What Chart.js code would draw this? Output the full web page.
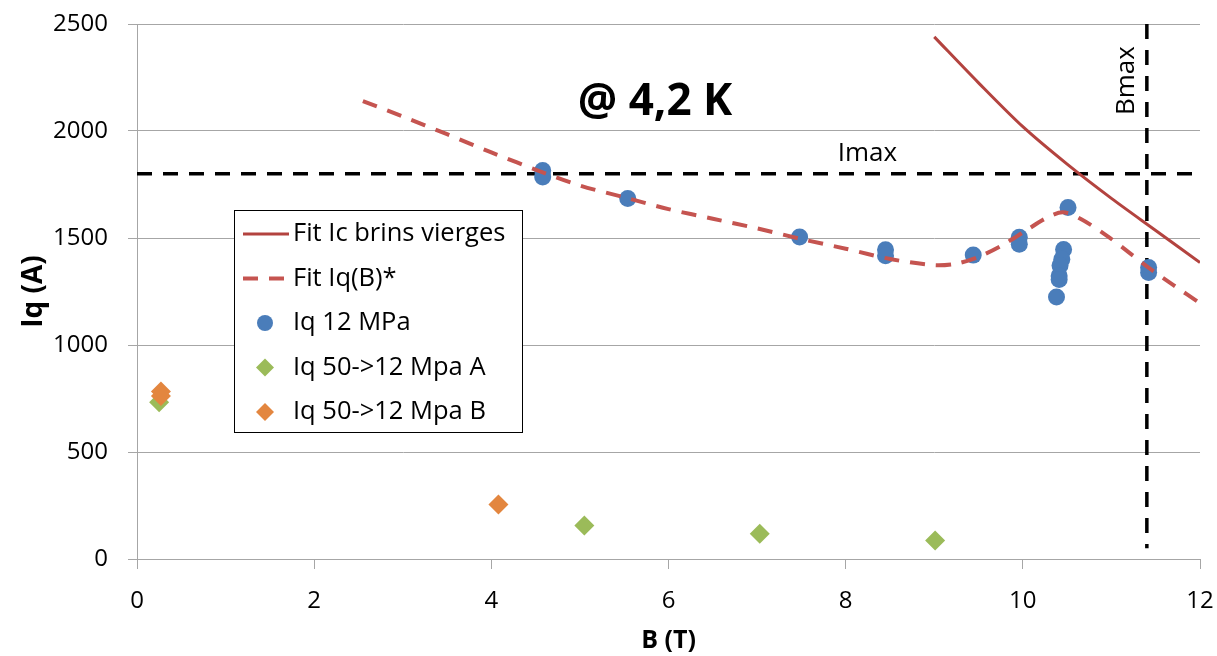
<!DOCTYPE html>
<html><head><meta charset="utf-8">
<script src="https://cdn.jsdelivr.net/npm/chart.js@4"></script>
<style>html,body{margin:0;padding:0;background:#fff}#wrap{width:1217px;height:656px;position:relative}</style>
</head><body><div id="wrap"><canvas id="c" width="1217" height="656"></canvas></div>
<script>
// ---- data ----
const fitIcB = [9.0, 9.5, 10.0, 10.5, 11.0, 11.5, 12.0];
const fitIcI = [2440, 2225, 2020, 1845, 1685, 1535, 1385];
const fitIqB = [2.55, 3.0, 3.5, 4.0, 4.58, 5.0, 5.5, 6.0, 6.5, 7.0, 7.5, 8.0, 8.5, 9.0, 9.25, 9.5, 9.75, 10.0, 10.25, 10.45, 10.65, 10.95, 11.2, 11.45, 11.7, 12.0];
const fitIqI = [2140, 2068, 1985, 1900, 1807, 1745, 1690, 1635, 1590, 1545, 1495, 1450, 1402, 1373, 1380, 1412, 1462, 1525, 1590, 1620, 1590, 1510, 1432, 1352, 1280, 1195];
const iq12B = [4.58, 4.58, 5.54, 7.48, 8.45, 8.45, 9.44, 9.96, 9.96, 10.51, 10.46, 10.44, 10.42, 10.41, 10.41, 10.38, 11.42, 11.42];
const iq12I = [1815, 1785, 1685, 1505, 1445, 1417, 1420, 1503, 1471, 1643, 1446, 1401, 1372, 1323, 1306, 1224, 1362, 1339];
const iqAB = [0.25, 5.05, 7.03, 9.01];
const iqAI = [732, 157, 118, 87];
const iqBB = [0.27, 0.27, 4.08];
const iqBI = [783, 762, 255];
const imaxValue = 1800;
const bmaxValue = 11.4;
const xTicks = [0, 2, 4, 6, 8, 10, 12];
const yTicks = [0, 500, 1000, 1500, 2000, 2500];
const seriesLabels = ['Fit Ic brins vierges', 'Fit Iq(B)*', 'Iq 12 MPa', 'Iq 50->12 Mpa A', 'Iq 50->12 Mpa B'];
const titleText = '@ 4,2 K';
const xTitle = 'B (T)';
const yTitle = 'Iq (A)';

const pts = (xs, ys) => xs.map((x, i) => ({x: x, y: ys[i]}));
const FONT = '"Open Sans", Lato, sans-serif';
const cRed = '#B3433F', cRedD = '#C55450', cBlue = '#4A7DBA', cGreen = '#9BBB59', cOrange = '#E3863F';

const datasets = [
  {label: seriesLabels[0], data: pts(fitIcB, fitIcI), showLine: true, borderColor: cRed, borderWidth: 3, pointRadius: 0, tension: 0.3, order: 1, leg: {type: 'line'}},
  {label: seriesLabels[1], data: pts(fitIqB, fitIqI), showLine: true, borderColor: cRedD, borderWidth: 4, borderDash: [15, 11], pointRadius: 0, tension: 0.3, order: 0, leg: {type: 'dash'}},
  {label: seriesLabels[2], data: pts(iq12B, iq12I), showLine: false, pointStyle: 'circle', pointRadius: 8.5, backgroundColor: cBlue, borderWidth: 0, order: 3, leg: {type: 'circle'}},
  {label: seriesLabels[3], data: pts(iqAB, iqAI), showLine: false, pointStyle: 'rectRot', pointRadius: 10, backgroundColor: cGreen, borderWidth: 0, order: 4, leg: {type: 'diamond'}},
  {label: seriesLabels[4], data: pts(iqBB, iqBI), showLine: false, pointStyle: 'rectRot', pointRadius: 10, backgroundColor: cOrange, borderWidth: 0, order: 2, leg: {type: 'diamond'}},
  {label: 'Imax', data: [{x: 0, y: imaxValue}, {x: 12, y: imaxValue}], showLine: true, borderColor: '#000', borderWidth: 3.5, borderDash: [15, 11], pointRadius: 0, order: 6},
  {label: 'Bmax', data: [{x: bmaxValue, y: 2500}, {x: bmaxValue, y: 50}], showLine: true, borderColor: '#000', borderWidth: 3.5, borderDash: [15, 11], pointRadius: 0, order: 5}
];

const overlay = {
  id: 'overlay',
  afterDraw(chart) {
    const ctx = chart.ctx, xs = chart.scales.x, ys = chart.scales.y;
    ctx.save();
    ctx.fillStyle = '#000';
    ctx.font = 'bold 44px ' + FONT;
    ctx.textAlign = 'center'; ctx.textBaseline = 'alphabetic';
    ctx.fillText(titleText, 655, 115);
    ctx.font = '26px ' + FONT;
    ctx.textAlign = 'left';
    ctx.fillText('Imax', xs.getPixelForValue(7.91), ys.getPixelForValue(imaxValue) - 13);
    ctx.save();
    ctx.translate(xs.getPixelForValue(bmaxValue) - 13, 115);
    ctx.rotate(-Math.PI / 2);
    ctx.textAlign = 'left';
    ctx.fillText('Bmax', 0, 0);
    ctx.restore();
    // legend box
    const bx = 234.5, by = 210.5, bw = 288, bh = 222;
    ctx.fillStyle = '#fff';
    ctx.fillRect(bx, by, bw, bh);
    ctx.strokeStyle = '#000'; ctx.lineWidth = 1;
    ctx.strokeRect(bx, by, bw, bh);
    ctx.font = '25.5px ' + FONT;
    ctx.textBaseline = 'middle'; ctx.textAlign = 'left';
    for (let i = 0; i < 5; i++) {
      const d = chart.data.datasets[i];
      const yy = 234 + i * 44.5;
      ctx.save();
      if (d.leg.type === 'line' || d.leg.type === 'dash') {
        ctx.strokeStyle = d.borderColor; ctx.lineWidth = d.leg.type === 'dash' ? 4 : 3;
        ctx.setLineDash(d.leg.type === 'dash' ? [15, 11] : []);
        ctx.beginPath(); ctx.moveTo(243, yy); ctx.lineTo(289, yy); ctx.stroke();
      } else if (d.leg.type === 'circle') {
        ctx.fillStyle = d.backgroundColor;
        ctx.beginPath(); ctx.arc(265, yy, 8, 0, Math.PI * 2); ctx.fill();
      } else {
        ctx.fillStyle = d.backgroundColor;
        ctx.beginPath(); ctx.moveTo(265, yy - 9); ctx.lineTo(274, yy); ctx.lineTo(265, yy + 9); ctx.lineTo(256, yy); ctx.closePath(); ctx.fill();
      }
      ctx.restore();
      ctx.fillStyle = '#000';
      ctx.fillText(d.label, 293, yy);
    }
    ctx.restore();
  }
};

const zeroPad = s => { s.paddingTop = 0; s.paddingBottom = 0; s.paddingLeft = 0; s.paddingRight = 0; };

new Chart(document.getElementById('c'), {
  type: 'scatter',
  data: {datasets: datasets},
  plugins: [overlay],
  options: {
    responsive: false, animation: false,
    layout: {autoPadding: false, padding: {left: 0, right: 17, top: 24, bottom: 0}},
    plugins: {legend: {display: false}, tooltip: {enabled: false}},
    scales: {
      x: {
        type: 'linear', min: 0, max: 12,
        afterBuildTicks: s => { s.ticks = xTicks.map(v => ({value: v})); },
        afterFit: s => { s.height = 97; zeroPad(s); },
        grid: {drawOnChartArea: false, drawTicks: true, tickLength: 10, color: '#A6A6A6', lineWidth: 1},
        border: {color: '#A6A6A6', width: 1},
        ticks: {font: {family: FONT, size: 24}, color: '#000', padding: 18, maxRotation: 0, callback: v => String(v)},
        title: {display: true, text: xTitle, font: {family: FONT, size: 25, weight: 'bold'}, color: '#000', padding: {top: 0, bottom: 0}}
      },
      y: {
        type: 'linear', min: 0, max: 2500,
        afterBuildTicks: s => { s.ticks = yTicks.map(v => ({value: v})); },
        afterFit: s => { s.width = 137; zeroPad(s); },
        grid: {color: '#A6A6A6', lineWidth: 1, tickLength: 9, drawTicks: true},
        border: {color: '#A6A6A6', width: 1},
        ticks: {font: {family: FONT, size: 24}, color: '#000', padding: 20, callback: v => String(v)},
        title: {display: true, text: yTitle, font: {family: FONT, size: 28, weight: 'bold'}, color: '#000', padding: {top: 17, bottom: 0}}
      }
    }
  }
});
</script></body></html>
